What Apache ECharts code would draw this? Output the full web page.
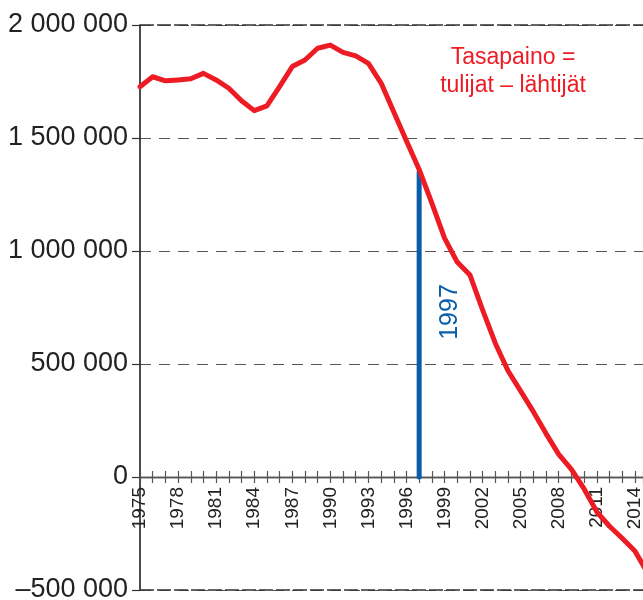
<!DOCTYPE html>
<html>
<head>
<meta charset="utf-8">
<script src="https://cdn.jsdelivr.net/npm/echarts@6/dist/echarts.min.js"></script>
<style>html,body{margin:0;padding:0;background:#fff}#c{width:643px;height:600px}</style>
</head>
<body>
<div id="c"></div>
<script>
const years = [1975,1976,1977,1978,1979,1980,1981,1982,1983,1984,1985,1986,1987,1988,1989,1990,1991,1992,1993,1994,1995,1996,1997,1998,1999,2000,2001,2002,2003,2004,2005,2006,2007,2008,2009,2010,2011,2012,2013,2014,2015];
const balance = [1727000,1771000,1753000,1757000,1762000,1786000,1757000,1720000,1665000,1621000,1642000,1727000,1816000,1845000,1897000,1911000,1879000,1863000,1830000,1743000,1615000,1487000,1361000,1212000,1057000,951000,894000,739000,592000,470000,380000,289000,192000,100000,34000,-53000,-154000,-218000,-271000,-327000,-425000];
const markerYear = [1997, 1997];
const markerValue = [0, 1350000];
const yTicks = [-500000, 0, 500000, 1000000, 1500000, 2000000];
const annotation = ['Tasapaino =', 'tulijat – lähtijät'];
const markerLabel = '1997';

const FONT = '"Liberation Sans", Arial, sans-serif';
const RED = '#ED1C24';
const BLUE = '#0B5DAA';

function fmtY(v) {
  const s = String(Math.abs(v)).replace(/\B(?=(\d{3})+(?!\d))/g, ' ');
  return (v < 0 ? '–' : '') + s;
}

const GRID = {left: 140, right: 0, top: 25, bottom: 10};
const plotH = 600 - GRID.top - GRID.bottom;
const zeroOffset = -plotH * (0 - yTicks[0]) / (yTicks[yTicks.length - 1] - yTicks[0]);

const chart = echarts.init(document.getElementById('c'), null, {renderer: 'canvas'});
const xCommon = {
  type: 'value', min: 1975, max: 2014.64, interval: 1,
  axisLine: {show: true, onZero: true, onZeroAxisIndex: 0, lineStyle: {color: '#555', width: 1.3}},
  splitLine: {show: false}
};
chart.setOption({
  animation: false,
  grid: Object.assign({containLabel: false, outerBoundsMode: 'none'}, GRID),
  xAxis: [
    Object.assign({}, xCommon, {
      position: 'bottom',
      axisTick: {show: true, inside: true, length: 6, lineStyle: {color: '#555', width: 1.2}},
      axisLabel: {show: false}
    }),
    Object.assign({}, xCommon, {
      position: 'bottom',
      axisTick: {show: true, inside: false, length: 6, lineStyle: {color: '#555', width: 1.2}},
      axisLabel: {show: false}
    }),
    {
      type: 'value', min: 1975, max: 2014.64, interval: 1,
      position: 'bottom', offset: zeroOffset,
      axisLine: {show: false, onZero: false}, axisTick: {show: false}, splitLine: {show: false},
      axisLabel: {
        show: true, rotate: 90, margin: 10, fontSize: 19, color: '#222', fontFamily: FONT,
        formatter: v => (Number.isInteger(v) && (v - 1975) % 3 === 0) ? String(v) : ''
      }
    }
  ],
  yAxis: {
    type: 'value', min: yTicks[0], max: yTicks[yTicks.length - 1], interval: 500000,
    axisLine: {show: true, onZero: false, lineStyle: {color: '#111', width: 1.5}},
    axisTick: {show: true, length: 8, lineStyle: {color: '#333', width: 1.2}},
    axisLabel: {fontSize: 27, color: '#222', fontFamily: FONT, margin: 12, formatter: fmtY},
    splitLine: {show: true, lineStyle: {color: '#555', width: 1.2, type: [11, 8]}}
  },
  series: [
    {
      type: 'line', xAxisIndex: 0,
      data: years.map((y, i) => [y, balance[i]]),
      symbol: 'none', smooth: false,
      lineStyle: {color: RED, width: 5, cap: 'round', join: 'round'},
      z: 5,
      markLine: {
        silent: true, symbol: 'none', label: {show: false},
        lineStyle: {color: '#333', width: 1.5, type: [14, 3]},
        data: [{yAxis: yTicks[yTicks.length - 1]}, {yAxis: yTicks[0]}]
      }
    },
    {
      type: 'line', xAxisIndex: 0,
      data: markerYear.map((y, i) => [y, markerValue[i]]),
      symbol: 'none',
      lineStyle: {color: BLUE, width: 5, cap: 'round'},
      z: 4
    }
  ],
  graphic: [
    {type: 'text', x: 513, y: 58, style: {text: annotation[0], fill: RED, font: '23px ' + FONT, textAlign: 'center', textVerticalAlign: 'middle'}},
    {type: 'text', x: 513, y: 86, style: {text: annotation[1], fill: RED, font: '23px ' + FONT, textAlign: 'center', textVerticalAlign: 'middle'}},
    {type: 'text', x: 450, y: 312, rotation: Math.PI / 2, style: {text: markerLabel, fill: BLUE, font: '25px ' + FONT, textAlign: 'center', textVerticalAlign: 'middle'}}
  ]
});
</script>
</body>
</html>
